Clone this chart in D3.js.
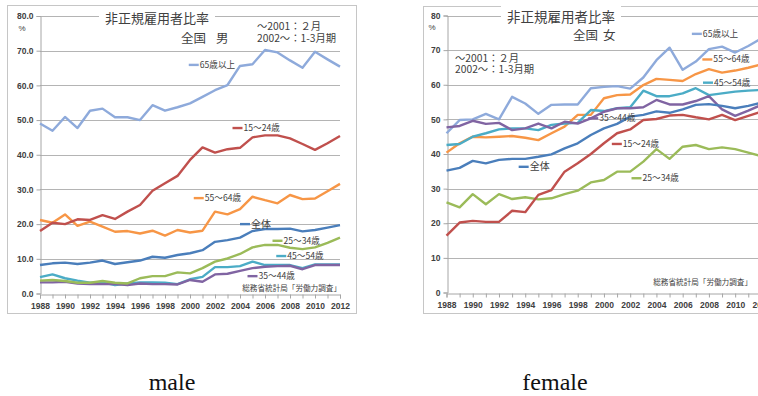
<!DOCTYPE html>
<html>
<head>
<meta charset="utf-8">
<script src="https://cdn.jsdelivr.net/npm/d3@7"></script>
<style>
  html, body { margin: 0; padding: 0; background: #fff; }
  svg { display: block; }
</style>
</head>
<body>
<svg id="fig" width="758" height="396"></svg>
<script>
// Survey years (February survey up to 2001, Jan–Mar average from 2002)
const years = [1988, 1989, 1990, 1991, 1992, 1993, 1994, 1995, 1996, 1997, 1998, 1999,
               2000, 2001, 2002, 2003, 2004, 2005, 2006, 2007, 2008, 2009, 2010, 2011, 2012];
const yTicks = [0, 10, 20, 30, 40, 50, 60, 70, 80];
const xLabelYears = [1988, 1990, 1992, 1994, 1996, 1998, 2000, 2002, 2004, 2006, 2008, 2010, 2012];

// Share of non-regular employees (%), men
const male65 = [49.0, 46.9, 50.9, 47.7, 52.7, 53.3, 50.8, 50.8, 50.0, 54.3, 52.7, 53.7, 54.8, 56.7, 58.6, 60.1, 65.6, 66.1, 70.2, 69.5, 67.2, 65.1, 69.7, 67.5, 65.4];
const male1524 = [18.0, 20.4, 20.0, 21.4, 21.2, 22.6, 21.5, 23.6, 25.5, 29.6, 31.8, 33.9, 38.5, 42.1, 40.6, 41.6, 42.0, 45.0, 45.6, 45.6, 44.7, 43.1, 41.4, 43.3, 45.4];
const male5564 = [21.2, 20.4, 22.8, 19.5, 20.7, 19.3, 17.8, 18.0, 17.3, 18.1, 16.7, 18.3, 17.6, 18.1, 23.6, 22.8, 24.3, 27.9, 26.9, 26.0, 28.4, 27.2, 27.4, 29.5, 31.6];
const maleAll = [8.2, 8.7, 8.9, 8.5, 8.9, 9.5, 8.5, 9.0, 9.5, 10.6, 10.3, 11.1, 11.6, 12.5, 14.9, 15.4, 16.1, 18.0, 18.6, 18.6, 18.7, 17.9, 18.3, 19.0, 19.7];
const male2534 = [3.7, 3.9, 3.6, 3.1, 3.1, 3.6, 3.1, 2.9, 4.4, 5.0, 5.0, 6.1, 5.8, 7.3, 9.2, 10.1, 11.4, 13.3, 14.0, 14.0, 13.2, 12.8, 13.3, 14.6, 16.1];
const male4554 = [4.7, 5.5, 4.4, 3.7, 3.1, 3.2, 2.4, 2.9, 3.2, 3.2, 3.1, 2.7, 4.1, 4.8, 7.6, 7.6, 7.9, 9.2, 8.2, 8.2, 8.2, 7.3, 8.4, 8.4, 8.4];
const male3544 = [3.2, 3.2, 3.4, 2.9, 2.7, 2.7, 2.7, 2.4, 2.9, 2.7, 2.7, 2.6, 3.9, 3.4, 5.5, 5.7, 6.5, 7.3, 7.7, 7.9, 8.0, 7.0, 8.2, 8.2, 8.2];

// Share of non-regular employees (%), women
const fem65 = [46.0, 49.8, 50.0, 51.6, 50.0, 56.5, 54.6, 51.6, 54.2, 54.3, 54.3, 59.0, 59.4, 59.6, 58.9, 62.1, 67.1, 70.7, 64.3, 66.7, 70.3, 71.0, 69.3, 71.2, 73.4];
const fem5564 = [40.4, 43.1, 45.0, 44.8, 45.0, 45.2, 44.7, 44.0, 46.0, 47.9, 51.3, 51.3, 56.1, 57.0, 57.2, 59.9, 61.7, 61.4, 61.1, 63.1, 64.5, 63.5, 64.1, 64.9, 65.9];
const fem4554 = [42.6, 42.9, 45.0, 46.0, 47.1, 47.4, 47.4, 46.9, 48.4, 48.8, 49.0, 52.7, 52.4, 53.2, 53.5, 58.3, 56.7, 56.7, 57.5, 59.0, 57.0, 57.5, 58.0, 58.3, 58.5];
const fem3544 = [47.7, 48.1, 49.6, 48.7, 49.0, 46.9, 47.4, 48.8, 47.4, 49.3, 48.8, 50.3, 52.2, 53.2, 53.2, 53.5, 55.6, 54.3, 54.3, 55.3, 56.7, 52.9, 51.0, 52.5, 54.2];
const femAll = [35.2, 36.0, 38.0, 37.3, 38.3, 38.6, 38.6, 39.2, 39.9, 41.6, 43.1, 45.5, 47.4, 48.7, 50.8, 51.3, 52.3, 51.9, 52.9, 54.2, 54.4, 53.9, 53.2, 53.9, 54.8];
const fem1524 = [16.4, 20.2, 20.7, 20.4, 20.4, 23.6, 23.2, 28.2, 29.6, 34.9, 37.3, 40.0, 43.1, 46.0, 47.1, 49.8, 50.1, 51.1, 51.3, 50.6, 50.0, 51.3, 49.8, 51.0, 52.2];
const fem2534 = [26.0, 24.6, 28.4, 25.5, 28.4, 27.0, 27.5, 26.9, 27.2, 28.4, 29.4, 31.8, 32.5, 34.9, 34.9, 37.8, 41.4, 38.6, 42.1, 42.6, 41.4, 41.9, 41.4, 40.4, 39.4];

const seriesNames = ["65歳以上", "55〜64歳", "45〜54歳", "35〜44歳", "25〜34歳", "15〜24歳", "全体"];
const chartTitle = "非正規雇用者比率";
const periodNote = ["～2001：２月", "2002～：1-3月期"];
const sourceNote = "総務省統計局「労働力調査」";

const colors = {
  "65歳以上": "#8eaadb",
  "55〜64歳": "#f79646",
  "45〜54歳": "#4bacc6",
  "35〜44歳": "#8064a2",
  "25〜34歳": "#9bbb59",
  "15〜24歳": "#c0504d",
  "全体": "#4a7ebb"
};

const JP = "'Noto Sans CJK JP', 'Noto Sans', sans-serif";
const NUM = "'Liberation Sans', Arial, sans-serif";
const TXT = "#404040";

const svg = d3.select("#fig");

function drawChart(cfg) {
  const g = svg.append("g");
  const x = d3.scaleLinear().domain([1988, 2012]).range(cfg.xRange);
  const y = d3.scaleLinear().domain([0, 80]).range(cfg.yRange);

  // outer frame
  g.append("rect")
    .attr("x", cfg.frame[0] + 0.5).attr("y", cfg.frame[1] + 0.5)
    .attr("width", cfg.frame[2]).attr("height", cfg.frame[3])
    .attr("fill", "#fff").attr("stroke", "#c6c6c6").attr("stroke-width", 1);

  // horizontal gridlines
  g.append("g").selectAll("line")
    .data(yTicks.filter(d => d > 0))
    .join("line")
    .attr("x1", x(1988)).attr("x2", x(2012))
    .attr("y1", d => Math.round(y(d)) + 0.5).attr("y2", d => Math.round(y(d)) + 0.5)
    .attr("stroke", "#b4b4b4").attr("stroke-width", 1);

  // y axis
  const yAxis = g.append("g")
    .attr("transform", `translate(${Math.round(x(1988)) + 0.5},0)`)
    .call(d3.axisLeft(y).tickValues(yTicks).tickSize(4).tickPadding(3)
      .tickFormat(cfg.yFormat));
  yAxis.select(".domain").attr("stroke", "#a6a6a6");
  yAxis.selectAll(".tick line").attr("stroke", "#a6a6a6");
  yAxis.selectAll(".tick text")
    .attr("font-family", NUM).attr("font-size", 8.5).attr("fill", TXT)
    .attr("font-weight", "bold");

  // x axis with a tick every year, labels every second year
  const xAxis = g.append("g")
    .attr("transform", `translate(0,${Math.round(y(0)) + 0.5})`)
    .call(d3.axisBottom(x).tickValues(years).tickSize(4).tickPadding(4)
      .tickFormat(d => xLabelYears.includes(d) ? String(d) : ""));
  xAxis.select(".domain").attr("stroke", "#a6a6a6");
  xAxis.selectAll(".tick line").attr("stroke", "#a6a6a6");
  xAxis.selectAll(".tick text")
    .attr("font-family", NUM).attr("font-size", 8.5).attr("fill", TXT)
    .attr("font-weight", "bold");

  // unit
  g.append("text")
    .attr("x", cfg.unitPos[0]).attr("y", cfg.unitPos[1])
    .attr("text-anchor", "middle")
    .attr("font-family", NUM).attr("font-size", 8).attr("fill", TXT)
    .text("%");

  // series lines
  const line = d3.line()
    .x((d, i) => x(years[i]))
    .y(d => y(d));
  g.append("g").selectAll("path")
    .data(cfg.series)
    .join("path")
    .attr("d", d => line(d.values))
    .attr("fill", "none")
    .attr("stroke", d => colors[d.name])
    .attr("stroke-width", 2.4)
    .attr("stroke-linejoin", "round");

  // inline series labels with a short key line
  const lab = g.append("g").selectAll("g")
    .data(cfg.series)
    .join("g")
    .attr("transform", d => `translate(${x(d.label[0])},${y(d.label[1])})`);
  lab.append("line")
    .attr("x1", 0).attr("x2", 10).attr("y1", 0).attr("y2", 0)
    .attr("stroke", d => colors[d.name]).attr("stroke-width", 2.4);
  lab.append("text")
    .attr("x", 11).attr("y", 0).attr("dy", "0.35em")
    .attr("font-family", JP)
    .attr("font-size", d => d.name === "全体" ? 10 : 8.6)
    .attr("fill", TXT)
    .text(d => d.name);

  // title on a white patch that breaks the top gridline
  const title = g.append("text")
    .attr("x", cfg.titlePos[0]).attr("y", cfg.titlePos[1])
    .attr("text-anchor", "middle")
    .attr("font-family", JP).attr("font-size", cfg.titleSize).attr("fill", TXT)
    .text(chartTitle);
  const bb = title.node().getBBox();
  g.insert("rect", () => title.node())
    .attr("x", bb.x - 6).attr("y", bb.y).attr("width", bb.width + 12).attr("height", bb.height)
    .attr("fill", "#fff");

  // region and sex
  g.append("text")
    .attr("x", cfg.regionPos[0]).attr("y", cfg.regionPos[1])
    .attr("font-family", JP).attr("font-size", 12.5).attr("fill", TXT)
    .text("全国");
  g.append("text")
    .attr("x", cfg.sexPos[0]).attr("y", cfg.regionPos[1])
    .attr("font-family", JP).attr("font-size", 12.5).attr("fill", TXT)
    .text(cfg.sex);

  // survey period note, two lines in one text block
  g.append("text")
    .attr("x", cfg.notePos[0]).attr("y", cfg.notePos[1])
    .attr("font-family", JP).attr("font-size", 10.3).attr("fill", TXT)
    .selectAll("tspan")
    .data(periodNote)
    .join("tspan")
    .attr("x", cfg.notePos[0])
    .attr("dy", (d, i) => i === 0 ? 0 : cfg.noteGap)
    .text(d => d);

  // source
  g.append("text")
    .attr("x", cfg.sourcePos[0]).attr("y", cfg.sourcePos[1])
    .attr("text-anchor", "end")
    .attr("font-family", JP).attr("font-size", 7.6).attr("fill", TXT)
    .text(sourceNote);

  // caption below the chart
  svg.append("text")
    .attr("x", cfg.captionPos[0]).attr("y", cfg.captionPos[1])
    .attr("text-anchor", "middle")
    .attr("font-family", "'Liberation Serif', 'DejaVu Serif', serif")
    .attr("font-size", 24).attr("fill", "#111")
    .text(cfg.caption);
}

drawChart({
  frame: [7, 5, 349, 308],
  xRange: [40, 340],
  yRange: [293.5, 16],
  yFormat: d3.format(".1f"),
  unitPos: [22, 31],
  titlePos: [157, 22.5],
  titleSize: 13,
  regionPos: [181, 43],
  sexPos: [216, 43],
  sex: "男",
  notePos: [257, 30],
  noteGap: 11.5,
  sourcePos: [341, 291],
  caption: "male",
  captionPos: [172, 390],
  series: [
    { name: "65歳以上", values: male65, label: [1999.9, 65.9] },
    { name: "55〜64歳", values: male5564, label: [2000.3, 27.5] },
    { name: "45〜54歳", values: male4554, label: [2006.9, 10.8] },
    { name: "35〜44歳", values: male3544, label: [2004.6, 5.0] },
    { name: "25〜34歳", values: male2534, label: [2006.6, 15.2] },
    { name: "15〜24歳", values: male1524, label: [2003.4, 47.7] },
    { name: "全体", values: maleAll, label: [2004.0, 20.0] }
  ]
});

drawChart({
  frame: [423, 6, 360, 307],
  xRange: [446.5, 761.4],
  yRange: [292.5, 15.5],
  yFormat: d3.format("d"),
  unitPos: [432, 30],
  titlePos: [561, 21.5],
  titleSize: 13.5,
  regionPos: [573, 40],
  sexPos: [603, 40],
  sex: "女",
  notePos: [455, 62],
  noteGap: 11,
  sourcePos: [752, 285],
  caption: "female",
  captionPos: [555, 390],
  series: [
    { name: "65歳以上", values: fem65, label: [2006.7, 74.7] },
    { name: "55〜64歳", values: fem5564, label: [2007.5, 67.3] },
    { name: "45〜54歳", values: fem4554, label: [2007.55, 60.6] },
    { name: "35〜44歳", values: fem3544, label: [1998.8, 50.3] },
    { name: "25〜34歳", values: fem2534, label: [2002.1, 33.0] },
    { name: "15〜24歳", values: fem1524, label: [2000.6, 42.9] },
    { name: "全体", values: femAll, label: [1993.5, 36.3] }
  ]
});
</script>
</body>
</html>
